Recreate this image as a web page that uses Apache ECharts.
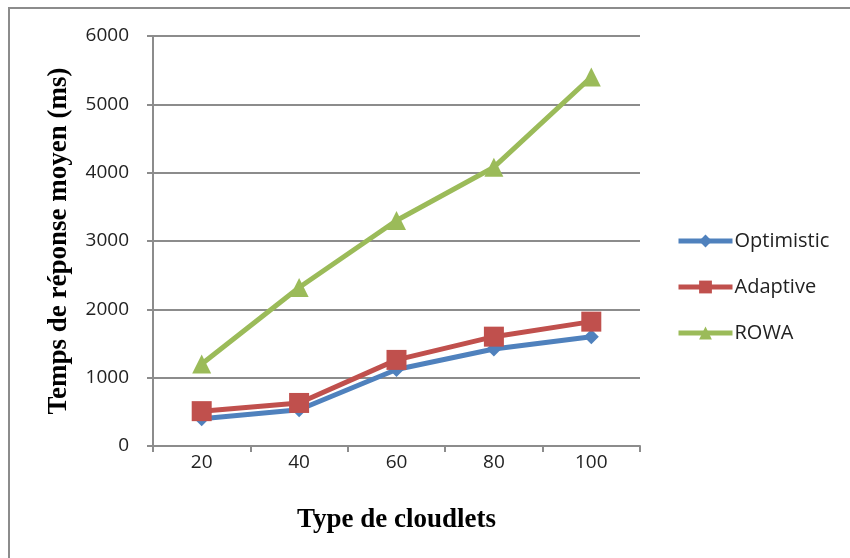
<!DOCTYPE html>
<html>
<head>
<meta charset="utf-8">
<script src="https://cdn.jsdelivr.net/npm/echarts@6/dist/echarts.min.js"></script>
<style>
  html, body { margin: 0; padding: 0; background: #fff; }
  #chart { width: 850px; height: 558px; }
</style>
</head>
<body>
<div id="chart"></div>
<script>
// Number of cloudlets on the x axis
const categories = ['20', '40', '60', '80', '100'];

// Mean response time (ms) per replication strategy
const optimistic = [400, 530, 1120, 1420, 1600];
const adaptive = [510, 630, 1260, 1600, 1820];
const rowa = [1200, 2320, 3300, 4080, 5400];

const seriesNames = ['Optimistic', 'Adaptive', 'ROWA'];
const seriesColors = ['#4F81BD', '#C0504D', '#9BBB59'];

const axisGray = '#8c8c8c';
const labelFont = '"Open Sans", Lato, sans-serif';
const titleFont = '"Liberation Serif", "Times New Roman", serif';

function lineSeries(name, data, color, symbol, size) {
  return {
    name: name,
    type: 'line',
    data: data,
    symbol: symbol,
    symbolSize: size,
    showAllSymbol: true,
    lineStyle: { color: color, width: 5 },
    itemStyle: { color: color },
    emphasis: { disabled: true },
    animation: false
  };
}

const chart = echarts.init(document.getElementById('chart'));
chart.setOption({
  animation: false,
  backgroundColor: '#fff',
  // chart-area frame: only its top and left edges fall inside the canvas
  graphic: [{
    type: 'polyline',
    shape: { points: [[9, 600], [9, 8], [900, 8]] },
    style: { fill: 'none', stroke: axisGray, lineWidth: 2 },
    silent: true
  }],
  grid: { left: 153, right: 210, top: 36, bottom: 112 },
  legend: {
    orient: 'vertical',
    left: 676,
    top: 231,
    padding: 0,
    itemWidth: 54,
    itemHeight: 16,
    itemGap: 26,
    data: seriesNames,
    lineStyle: { width: 5 },
    textStyle: { fontFamily: labelFont, fontSize: 20, color: '#222', padding: [0, 0, 0, -3] }
  },
  xAxis: {
    type: 'category',
    data: categories,
    boundaryGap: true,
    name: 'Type de cloudlets',
    nameLocation: 'middle',
    nameGap: 61,
    nameTextStyle: { fontFamily: titleFont, fontWeight: 'bold', fontSize: 27, color: '#000' },
    axisLine: { lineStyle: { color: axisGray, width: 2 } },
    axisTick: { show: true, length: 6, alignWithLabel: false, lineStyle: { color: axisGray, width: 2 } },
    axisLabel: { margin: 7, fontFamily: labelFont, fontSize: 19, color: '#222' },
    splitLine: { show: false }
  },
  yAxis: {
    type: 'value',
    min: 0,
    max: 6000,
    interval: 1000,
    name: 'Temps de réponse moyen (ms)',
    nameLocation: 'middle',
    nameGap: 80,
    nameTextStyle: { fontFamily: titleFont, fontWeight: 'bold', fontSize: 27, color: '#000' },
    axisLine: { show: true, lineStyle: { color: axisGray, width: 2 } },
    axisTick: { show: true, length: 6, lineStyle: { color: axisGray, width: 2 } },
    axisLabel: {
      margin: 24,
      fontFamily: labelFont,
      fontSize: 19,
      color: '#222',
      formatter: function (v) { return String(v); }
    },
    splitLine: { show: true, lineStyle: { color: axisGray, width: 2 } }
  },
  series: [
    lineSeries(seriesNames[0], optimistic, seriesColors[0], 'diamond', 15),
    lineSeries(seriesNames[1], adaptive, seriesColors[1], 'rect', 20),
    lineSeries(seriesNames[2], rowa, seriesColors[2], 'triangle', 19)
  ]
});
</script>
</body>
</html>
